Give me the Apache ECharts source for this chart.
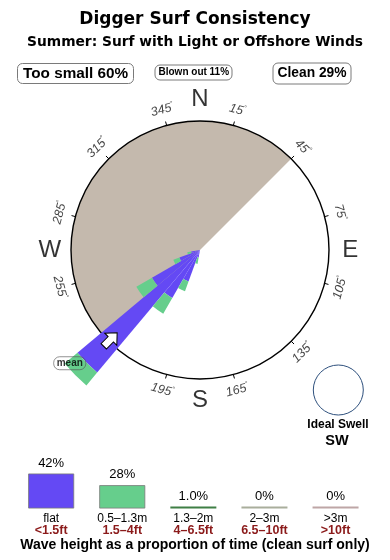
<!DOCTYPE html>
<html><head><meta charset="utf-8">
<script src="https://cdn.jsdelivr.net/npm/echarts@6/dist/echarts.min.js"></script>
<style>html,body{margin:0;padding:0;background:#fff}#c{width:390px;height:560px}</style>
</head><body><div id="c"></div>
<script>
// ---------- DATA ----------
const chartTitle = 'Digger Surf Consistency';
const chartSubtitle = 'Summer: Surf with Light or Offshore Winds';
const summaryLabels = ['Too small', 'Blown out', 'Clean'];
const summaryPct = [60, 11, 29];

// swell direction bins (10° each, centre bearing in degrees)
const dirBins = ['5','15','25','35','45','55','65','75','85','95',
                 '105','115','125','135','145','155','165','175','185','195',
                 '205','215','225','235','245','255','265','275','285','295',
                 '305','315','325','335','345','355'];
// rose lengths (circle radius = 100)
const flatShare  = [0,0,0,0,0,0,0,0,0,0, 0,0,0,0,0,0,0,0,0,6, 26,43,124,43,17,7,0,0,0,0, 0,0,0,0,0,0];
const smallShare = [0,0,0,0,0,0,0,0,0,0, 0,0,0,0,0,0,0,0,0,5, 8,14,13,14,5,3,0,0,0,0, 0,0,0,0,0,0];

const shelteredStart = 225;   // tan sector start bearing
const shelteredSpan = 180;    // tan sector width (deg)
const meanDir = 225;
const idealSwell = 'SW';

const compassNames = ['N', 'E', 'S', 'W'];
const compassBearings = [0, 90, 180, 270];
const degreeTicks = ['15','45','75','105','135','165','195','225','255','285','315','345'];
const degreeBearings = [15, 45, 75, 105, 135, 165, 195, 225, 255, 285, 315, 345];

const heightBins = ['flat', '0.5–1.3m', '1.3–2m', '2–3m', '>3m'];
const heightFeet = ['<1.5ft', '1.5–4ft', '4–6.5ft', '6.5–10ft', '>10ft'];
const heightPct = [42, 28, 1.0, 0, 0];
const heightPctLabels = ['42%', '28%', '1.0%', '0%', '0%'];
const caption = 'Wave height as a proportion of time (clean surf only)';

// ---------- STYLE ----------
const FONT = 'Liberation Sans';
const WIDE = 'DejaVu Sans';
const PURPLE = '#6449f4', GREEN = '#66ce8c', TAN = '#c4b9ad';
const heightColors = [PURPLE, GREEN, '#3f7f45', '#a9ae9c', '#bea6a6'];
const CX = 200, CY = 250, RC = 129, U = RC / 100;

function tangentRot(b) {
  let r = (b < 90 || b > 270) ? -b : 180 - b;
  while (r <= -180) r += 360;
  while (r > 180) r -= 360;
  return r;
}

const chart = echarts.init(document.getElementById('c'), null, {renderer: 'canvas'});
const titleBox = {borderWidth: 1, borderColor: '#7a7a7a', borderRadius: 5, backgroundColor: '#fff'};
const option = {
  animation: false,
  textStyle: {fontFamily: FONT},
  title: [
    {text: chartTitle, left: 'center', top: 11, padding: 0,
     textStyle: {fontFamily: WIDE, fontSize: 17, fontWeight: 'bold', color: '#000'}},
    {text: chartSubtitle, left: 'center', top: 35, padding: 0,
     textStyle: {fontFamily: WIDE, fontSize: 13.8, fontWeight: 'bold', color: '#000'}},
    Object.assign({text: summaryLabels[0] + ' ' + summaryPct[0] + '%', left: 17, top: 63, padding: [3, 6],
     textStyle: {fontFamily: FONT, fontSize: 15.3, fontWeight: 'bold', color: '#000'}}, titleBox),
    Object.assign({text: summaryLabels[1] + ' ' + summaryPct[1] + '%', left: 155, top: 65, padding: [2.5, 3.5],
     textStyle: {fontFamily: FONT, fontSize: 10, fontWeight: 'bold', color: '#000'}}, titleBox),
    Object.assign({text: summaryLabels[2] + ' ' + summaryPct[2] + '%', left: 273, top: 63, padding: [3.5, 4.5],
     textStyle: {fontFamily: FONT, fontSize: 13.8, fontWeight: 'bold', color: '#000'}}, titleBox),
    {text: caption, left: 'center', top: 538, padding: 0,
     textStyle: {fontFamily: FONT, fontSize: 14, fontWeight: 'bold', color: '#000'}}
  ],
  polar: [
    {center: [CX, CY], radius: RC},
    {center: [CX, CY], radius: RC},
    {center: [CX, CY], radius: 150 * U},
    {center: [CX, CY], radius: 150 * U}
  ],
  angleAxis: [
    {polarIndex: 0, type: 'category', data: degreeTicks, startAngle: 90 - degreeBearings[0], clockwise: true, z: 2,
     axisLine: {show: true, lineStyle: {color: '#000', width: 1.4}},
     axisTick: {show: true, inside: false, length: 4, lineStyle: {color: '#000', width: 1}},
     axisLabel: {show: false}, splitLine: {show: false}, splitArea: {show: false}},
    {polarIndex: 1, type: 'value', min: 0, max: 360, startAngle: 90 - shelteredStart, clockwise: true, show: false},
    {polarIndex: 2, type: 'category', data: dirBins, startAngle: 90, clockwise: true, show: false},
    {polarIndex: 3, type: 'value', min: 0, max: 360, startAngle: 90, clockwise: true, show: false}
  ],
  radiusAxis: [
    {polarIndex: 0, type: 'value', min: 0, max: 100, show: false},
    {polarIndex: 1, type: 'category', data: ['sheltered'], show: false},
    {polarIndex: 2, type: 'value', min: 0, max: 150, show: false},
    {polarIndex: 3, type: 'value', min: 0, max: 150, show: false}
  ],
  grid: {left: 15.6, width: 355.5, top: 425.2, height: 83.3},
  xAxis: {type: 'category', data: heightBins, axisLine: {show: false}, axisTick: {show: false},
    axisLabel: {interval: 0, margin: 4,
      formatter: (v, i) => '{a|' + v + '}\n{b|' + heightFeet[i] + '}',
      rich: {a: {fontFamily: FONT, fontSize: 12, color: '#000', lineHeight: 12},
             b: {fontFamily: FONT, fontSize: 12.5, fontWeight: 'bold', color: '#8b1a1a', lineHeight: 12}}}},
  yAxis: {type: 'value', min: 0, max: 100, show: false},
  graphic: [
    {type: 'circle', shape: {cx: 338.3, cy: 390, r: 25}, style: {fill: 'none', stroke: '#2d4f7c', lineWidth: 1}},
    {type: 'text', x: 338, y: 425, style: {text: 'Ideal Swell', font: 'bold 12px "Liberation Sans"', fill: '#000', align: 'center', verticalAlign: 'middle'}},
    {type: 'text', x: 337, y: 440.5, style: {text: idealSwell, font: 'bold 14.5px "Liberation Sans"', fill: '#000', align: 'center', verticalAlign: 'middle'}}
  ],
  series: [
    {type: 'bar', coordinateSystem: 'polar', polarIndex: 1, data: [shelteredSpan], barWidth: '100%', z: 1,
     itemStyle: {color: TAN}, silent: true},
    {type: 'scatter', coordinateSystem: 'polar', polarIndex: 3, z: 2, symbolSize: 0, silent: true,
     data: degreeBearings.map((b, i) => ({value: [112.4, b], label: {rotate: tangentRot(b),
        formatter: '{n|' + degreeTicks[i] + '}{d|°}'}})),
     label: {show: true, position: 'inside', color: '#000',
       rich: {n: {fontFamily: FONT, fontSize: 12.5, fontStyle: 'italic', color: '#111', lineHeight: 14},
              d: {fontFamily: FONT, fontSize: 7, color: '#111', verticalAlign: 'top', lineHeight: 14}}}},
    {type: 'bar', coordinateSystem: 'polar', polarIndex: 2, stack: 'rose', data: flatShare, barCategoryGap: '0%', z: 3,
     itemStyle: {color: PURPLE}},
    {type: 'bar', coordinateSystem: 'polar', polarIndex: 2, stack: 'rose', data: smallShare, barCategoryGap: '0%', z: 3,
     itemStyle: {color: GREEN}},
    {type: 'scatter', coordinateSystem: 'polar', polarIndex: 3, z: 4, silent: true,
     data: compassBearings.map((b, i) => ({value: [116.5, b], name: compassNames[i]})),
     symbolSize: 0,
     label: {show: true, position: 'inside', formatter: '{b}', fontFamily: FONT, fontSize: 24, color: '#000'}},
    {type: 'scatter', coordinateSystem: 'polar', polarIndex: 3, z: 5, silent: true,
     data: [[98.2, meanDir]],
     symbol: 'path://M9,0 L18,9 L13,9 L13,19 L5,19 L5,9 L0,9 Z', symbolKeepAspect: true,
     symbolSize: [18, 19], symbolRotate: -meanDir + 180,
     itemStyle: {color: '#fff', borderColor: '#000', borderWidth: 1, opacity: 1}},
    {type: 'scatter', coordinateSystem: 'polar', polarIndex: 3, z: 5, silent: true,
     data: [[133.8, meanDir + 4]], symbolSize: 0,
     label: {show: true, position: 'inside', formatter: 'mean', fontFamily: FONT, fontSize: 10, fontWeight: 'bold',
       color: '#000', borderColor: '#555', borderWidth: 0.8, borderRadius: 6, padding: [1.5, 3]}},
    {type: 'bar', xAxisIndex: 0, yAxisIndex: 0, barWidth: 46, barMinHeight: 2,
     data: heightPct.map((v, i) => ({value: v, itemStyle: {color: heightColors[i],
        borderColor: i < 2 ? '#7a7a7a' : heightColors[i], borderWidth: i < 2 ? 0.8 : 0}})),
     label: {show: true, position: 'top', distance: 4, formatter: p => heightPctLabels[p.dataIndex],
       fontFamily: FONT, fontSize: 13, color: '#000'}}
  ]
};
chart.setOption(option);
</script></body></html>
